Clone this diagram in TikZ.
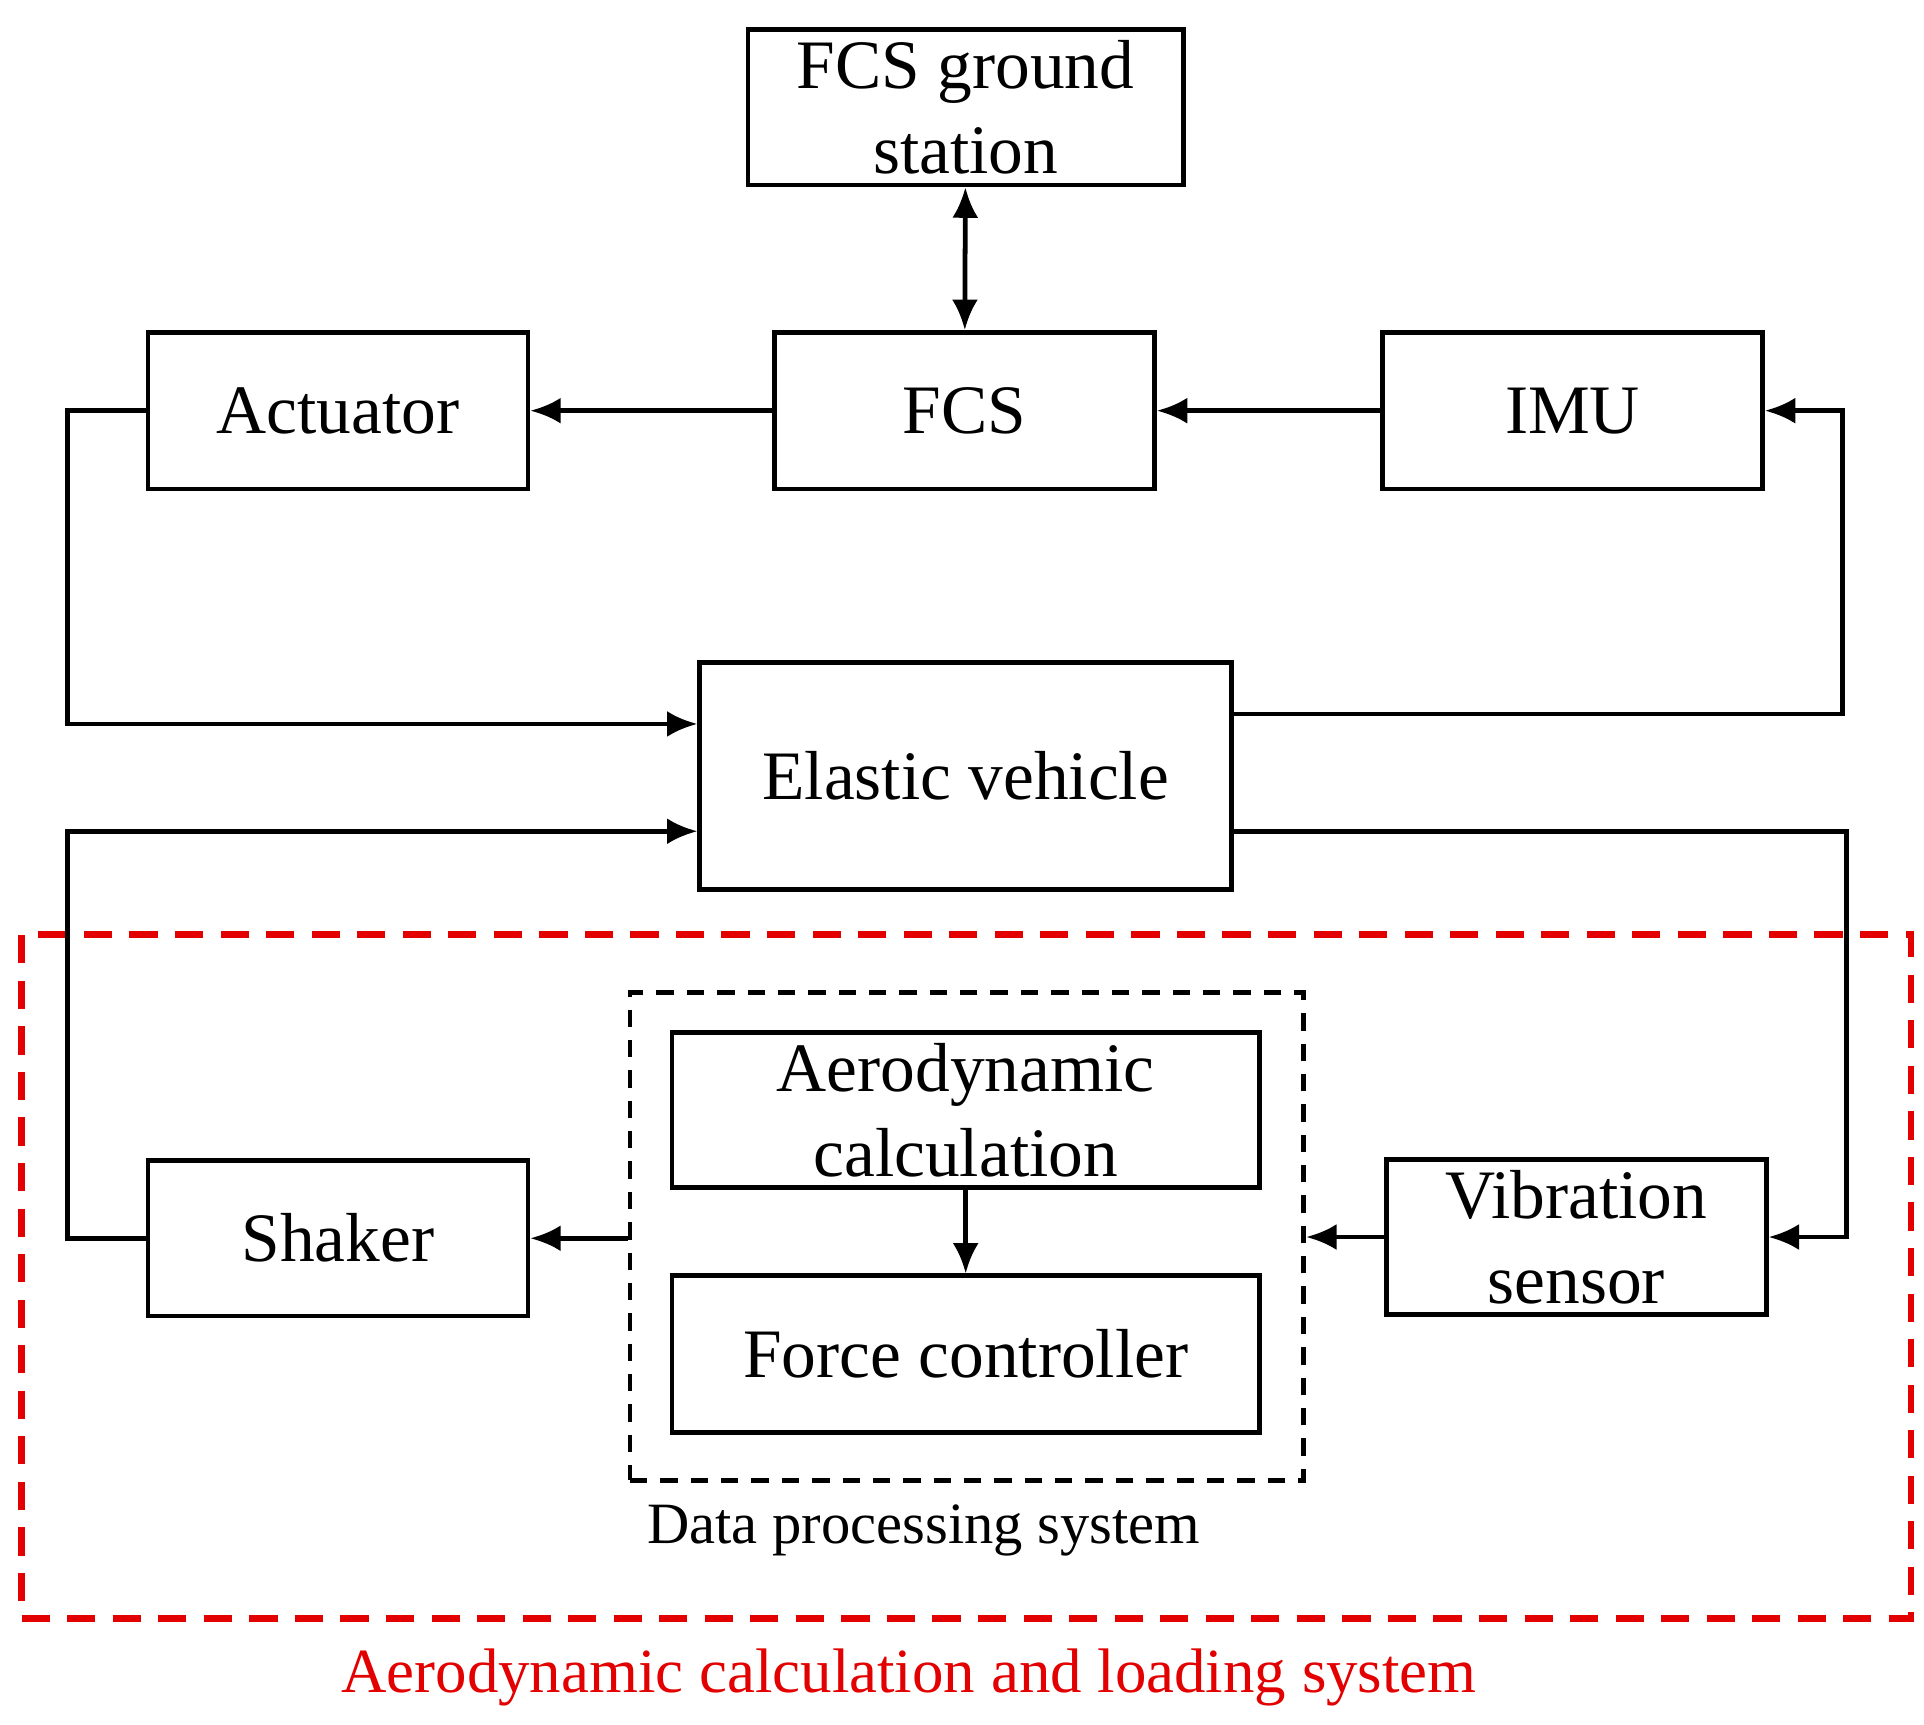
\documentclass[tikz,border=0pt]{standalone}
\usepackage{fontspec}
\setmainfont{Liberation Serif}
\usetikzlibrary{arrows.meta}
\definecolor{redd}{RGB}{226,0,0}
\begin{document}
\begin{tikzpicture}[x=0.01cm,y=-0.01cm,
  box/.style={draw,line width=1.1pt,inner sep=0pt,align=center,font=\fontsize{16}{19.5}\selectfont},
  ln/.style={line width=1.1pt},
  arr/.style={ln,-{Latex[length=7pt,width=6pt]}},
  darr/.style={ln,{Latex[length=7pt,width=6pt]}-{Latex[length=7pt,width=6pt]}}]
\useasboundingbox (0,0) rectangle (1560,1398);
\node[box,minimum width=3.53cm,minimum height=1.26cm] (gs) at (783,87) {FCS ground\\station};
\node[box,minimum width=3.08cm,minimum height=1.27cm] (act) at (274,333) {Actuator};
\node[box,minimum width=3.08cm,minimum height=1.27cm] (fcs) at (782,333) {FCS};
\node[box,minimum width=3.08cm,minimum height=1.27cm] (imu) at (1275,333) {IMU};
\node[box,minimum width=4.31cm,minimum height=1.84cm] (ev) at (783,629) {Elastic vehicle};
\node[draw=redd,line width=1.6pt,dash pattern=on 6.5pt off 4pt,minimum width=15.31cm,minimum height=5.54cm,inner sep=0pt] (red) at (783.5,1035) {};
\node[draw,line width=1.1pt,dash pattern=on 4pt off 3pt,minimum width=5.46cm,minimum height=3.95cm,inner sep=0pt] (dps) at (784,1002.5) {};
\node[box,minimum width=4.76cm,minimum height=1.26cm] (aero) at (783,900) {Aerodynamic\\calculation};
\node[box,minimum width=4.76cm,minimum height=1.27cm] (fc) at (783,1098) {Force controller};
\node[box,minimum width=3.08cm,minimum height=1.26cm] (sh) at (274,1004) {Shaker};
\node[box,minimum width=3.08cm,minimum height=1.26cm] (vs) at (1278,1003) {Vibration\\sensor};
\node[font=\fontsize{13.5}{15}\selectfont] (dl) at (749,1241) {Data processing system};
\node[font=\fontsize{14.5}{16}\selectfont,text=redd] (rl) at (737,1360) {Aerodynamic calculation and loading system};
\coordinate (c1) at (55,333); \coordinate (c2) at (55,587);
\coordinate (c3) at (1494,579); \coordinate (c4) at (1494,333);
\coordinate (c5) at (55,1004); \coordinate (c6) at (55,674);
\coordinate (c7) at (1497,674); \coordinate (c8) at (1497,1003);
\draw[darr] (gs) -- (fcs);
\draw[arr] (fcs) -- (act);
\draw[arr] (imu) -- (fcs);
\draw[arr] (act.west) -- (c1) -- (c2) -- (ev.west |- c2);
\draw[arr] (ev.east |- c3) -- (c3) -- (c4) -- (imu.east);
\draw[arr] (sh.west) -- (c5) -- (c6) -- (ev.west |- c6);
\draw[arr] (ev.east |- c7) -- (c7) -- (c8) -- (vs.east |- c8);
\draw[arr] (vs.west) -- (dps.east |- vs.west);
\draw[arr] (dps.west |- sh.east) -- (sh.east);
\draw[arr] (aero) -- (fc);
\end{tikzpicture}
\end{document}
